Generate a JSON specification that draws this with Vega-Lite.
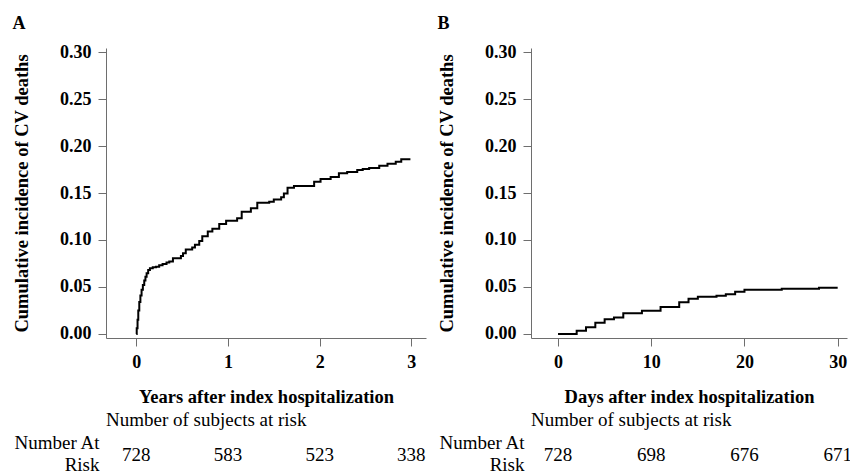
{
  "$schema": "https://vega.github.io/schema/vega-lite/v6.json",
  "padding": {"left": 12, "top": 15, "right": 0, "bottom": 0},
  "config": {
    "font": "Liberation Serif",
    "view": {"stroke": null},
    "axis": {
      "grid": false,
      "domainColor": "#6e6e6e",
      "tickColor": "#6e6e6e",
      "labelColor": "#000000",
      "titleColor": "#000000",
      "labelFont": "Liberation Serif",
      "titleFont": "Liberation Serif",
      "labelFontWeight": "bold",
      "labelFontSize": 18,
      "titleFontSize": 18.5,
      "titleFontWeight": "bold",
      "tickSize": 8
    },
    "title": {"font": "Liberation Serif", "color": "#000000"}
  },
  "datasets": {
    "yearsA": [
      {"t": 0, "v": 0},
      {"t": 0.005, "v": 0.006},
      {"t": 0.014, "v": 0.015},
      {"t": 0.022, "v": 0.025},
      {"t": 0.033, "v": 0.034},
      {"t": 0.045, "v": 0.041},
      {"t": 0.058, "v": 0.047},
      {"t": 0.072, "v": 0.052},
      {"t": 0.087, "v": 0.057},
      {"t": 0.1, "v": 0.061},
      {"t": 0.113, "v": 0.0645},
      {"t": 0.13, "v": 0.068},
      {"t": 0.149, "v": 0.07},
      {"t": 0.18, "v": 0.071},
      {"t": 0.215, "v": 0.0716},
      {"t": 0.25, "v": 0.073},
      {"t": 0.287, "v": 0.0745},
      {"t": 0.33, "v": 0.076},
      {"t": 0.36, "v": 0.077},
      {"t": 0.4, "v": 0.0805},
      {"t": 0.487, "v": 0.083},
      {"t": 0.51, "v": 0.086},
      {"t": 0.54, "v": 0.09},
      {"t": 0.61, "v": 0.092},
      {"t": 0.64, "v": 0.095},
      {"t": 0.687, "v": 0.099},
      {"t": 0.72, "v": 0.104},
      {"t": 0.78, "v": 0.109},
      {"t": 0.83, "v": 0.112},
      {"t": 0.905, "v": 0.117},
      {"t": 0.98, "v": 0.1205},
      {"t": 1.1, "v": 0.123},
      {"t": 1.15, "v": 0.13},
      {"t": 1.25, "v": 0.1337},
      {"t": 1.32, "v": 0.1397},
      {"t": 1.45, "v": 0.1408},
      {"t": 1.5, "v": 0.143},
      {"t": 1.58, "v": 0.1454},
      {"t": 1.61, "v": 0.1496},
      {"t": 1.65, "v": 0.1557},
      {"t": 1.72, "v": 0.1574},
      {"t": 1.94, "v": 0.162},
      {"t": 2.01, "v": 0.165},
      {"t": 2.12, "v": 0.167},
      {"t": 2.21, "v": 0.171},
      {"t": 2.3, "v": 0.1723},
      {"t": 2.41, "v": 0.1745},
      {"t": 2.47, "v": 0.1755},
      {"t": 2.54, "v": 0.1766},
      {"t": 2.65, "v": 0.179},
      {"t": 2.74, "v": 0.181},
      {"t": 2.83, "v": 0.1833},
      {"t": 2.89, "v": 0.186},
      {"t": 2.99, "v": 0.186}
    ],
    "daysB": [
      {"t": 0, "v": 0},
      {"t": 2, "v": 0.0035},
      {"t": 3, "v": 0.0071},
      {"t": 4, "v": 0.012},
      {"t": 5, "v": 0.0156},
      {"t": 6, "v": 0.0174},
      {"t": 7, "v": 0.022},
      {"t": 9, "v": 0.0248},
      {"t": 11, "v": 0.0287},
      {"t": 13, "v": 0.0337},
      {"t": 14, "v": 0.0376},
      {"t": 15, "v": 0.0397},
      {"t": 17, "v": 0.0407},
      {"t": 18, "v": 0.0422},
      {"t": 19, "v": 0.045},
      {"t": 20, "v": 0.0471},
      {"t": 24, "v": 0.0482},
      {"t": 28, "v": 0.0493},
      {"t": 30, "v": 0.0493}
    ],
    "riskA": [
      {"row": "Number At Risk", "t": 0, "n": 728},
      {"row": "Number At Risk", "t": 1, "n": 583},
      {"row": "Number At Risk", "t": 2, "n": 523},
      {"row": "Number At Risk", "t": 3, "n": 338}
    ],
    "riskB": [
      {"row": "Number At Risk", "t": 0, "n": 728},
      {"row": "Number At Risk", "t": 10, "n": 698},
      {"row": "Number At Risk", "t": 20, "n": 676},
      {"row": "Number At Risk", "t": 30, "n": 671}
    ]
  },
  "spacing": 11,
  "hconcat": [
    {
      "spacing": 5,
      "vconcat": [
        {
          "title": {"text": "A", "anchor": "start", "frame": "bounds", "fontSize": 18, "fontWeight": "bold", "offset": 10},
          "width": 320,
          "height": 290,
          "data": {"name": "yearsA"},
          "mark": {"type": "line", "interpolate": "step-after", "color": "#000000", "strokeWidth": 2},
          "encoding": {
            "x": {
              "field": "t", "type": "quantitative",
              "scale": {"domain": [-0.33, 3.16], "nice": false, "zero": false},
              "axis": {"values": [0, 1, 2, 3], "title": "Years after index hospitalization", "labelPadding": 7, "titlePadding": 16}
            },
            "y": {
              "field": "v", "type": "quantitative",
              "scale": {"domain": [-0.0043, 0.3043], "nice": false, "zero": false},
              "axis": {"values": [0, 0.05, 0.1, 0.15, 0.2, 0.25, 0.3], "format": ".2f", "title": "Cumulative incidence of CV deaths", "labelPadding": 7, "titlePadding": 28}
            }
          }
        },
        {
          "title": {"text": "Number of subjects at risk", "anchor": "start", "frame": "group", "fontSize": 19, "fontWeight": "normal", "offset": 3},
          "width": 320,
          "height": 26,
          "data": {"name": "riskA"},
          "mark": {"type": "text", "fontSize": 19, "baseline": "middle", "color": "#000000"},
          "encoding": {
            "x": {"field": "t", "type": "quantitative", "scale": {"domain": [-0.33, 3.16], "nice": false, "zero": false}, "axis": null},
            "y": {
              "field": "row", "type": "nominal",
              "axis": {"title": null, "domain": false, "ticks": false, "labelFontWeight": "normal", "labelFontSize": 19, "labelPadding": 7, "labelLineHeight": 22, "labelOffset": -13, "labelExpr": "['Number At', 'Risk']"}
            },
            "text": {"field": "n"}
          }
        }
      ]
    },
    {
      "spacing": 5,
      "vconcat": [
        {
          "title": {"text": "B", "anchor": "start", "frame": "bounds", "fontSize": 18, "fontWeight": "bold", "offset": 10},
          "width": 316,
          "height": 290,
          "data": {"name": "daysB"},
          "mark": {"type": "line", "interpolate": "step-after", "color": "#000000", "strokeWidth": 2},
          "encoding": {
            "x": {
              "field": "t", "type": "quantitative",
              "scale": {"domain": [-2.9, 31], "nice": false, "zero": false},
              "axis": {"values": [0, 10, 20, 30], "title": "Days after index hospitalization", "labelPadding": 7, "titlePadding": 16}
            },
            "y": {
              "field": "v", "type": "quantitative",
              "scale": {"domain": [-0.0043, 0.3043], "nice": false, "zero": false},
              "axis": {"values": [0, 0.05, 0.1, 0.15, 0.2, 0.25, 0.3], "format": ".2f", "title": "Cumulative incidence of CV deaths", "labelPadding": 7, "titlePadding": 28}
            }
          }
        },
        {
          "title": {"text": "Number of subjects at risk", "anchor": "start", "frame": "group", "fontSize": 19, "fontWeight": "normal", "offset": 3},
          "width": 316,
          "height": 26,
          "data": {"name": "riskB"},
          "mark": {"type": "text", "fontSize": 19, "baseline": "middle", "color": "#000000"},
          "encoding": {
            "x": {"field": "t", "type": "quantitative", "scale": {"domain": [-2.9, 31], "nice": false, "zero": false}, "axis": null},
            "y": {
              "field": "row", "type": "nominal",
              "axis": {"title": null, "domain": false, "ticks": false, "labelFontWeight": "normal", "labelFontSize": 19, "labelPadding": 7, "labelLineHeight": 22, "labelOffset": -13, "labelExpr": "['Number At', 'Risk']"}
            },
            "text": {"field": "n"}
          }
        }
      ]
    }
  ]
}
